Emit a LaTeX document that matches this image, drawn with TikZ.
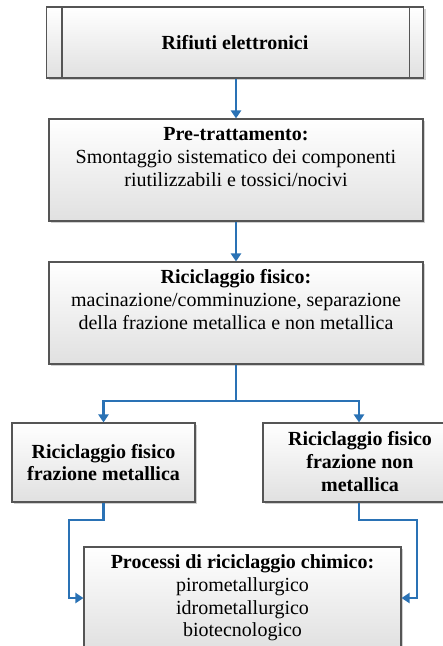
\documentclass[tikz,border=0pt]{standalone}
\usepackage{fontspec}
\setmainfont{Liberation Serif}
\usetikzlibrary{arrows.meta,shadows,calc}
\definecolor{arrblue}{HTML}{2A72B5}
\definecolor{boxline}{HTML}{555555}
\begin{document}
\begin{tikzpicture}[x=1pt,y=-1pt,
  box/.style={rectangle, draw=boxline, line width=1.1pt, top color=white, bottom color=black!12,
    drop shadow={shadow xshift=2pt, shadow yshift=-2pt, opacity=0.3, fill=black!60},
    inner sep=0pt, font=\fontsize{20}{22.8}\selectfont, align=center},
  txt/.style={inner sep=0pt, anchor=north, align=center, font=\fontsize{20}{22.8}\selectfont},
  arr/.style={draw=arrblue, line width=2.6pt, -{Triangle[length=8pt,width=10pt]}},
  ln/.style={draw=arrblue, line width=2.6pt}]
\useasboundingbox[fill=white] (0,0) rectangle (443,646);
% boxes
\node[box, minimum width=377pt, minimum height=71pt] (b1) at (235,42.5) {\bfseries Rifiuti elettronici};
\draw[boxline, line width=1.1pt] ([xshift=16pt]b1.north west) -- ([xshift=16pt]b1.south west);
\draw[boxline, line width=1.1pt] ([xshift=-15pt]b1.north east) -- ([xshift=-15pt]b1.south east);
\node[box, minimum width=374pt, minimum height=102pt] (b2) at (236,170) {};
\node[txt] (t2) at (236,127.5) {\textbf{Pre-trattamento:}\\Smontaggio sistematico dei componenti\\riutilizzabili e tossici/nocivi};
\node[box, minimum width=374pt, minimum height=102pt] (b3) at (236,313) {};
\node[txt] (t3) at (236,269.5) {\textbf{Riciclaggio fisico:}\\macinazione/comminuzione, separazione\\della frazione metallica e non metallica};
\node[box, minimum width=183pt, minimum height=79pt] (b4) at (103.5,462.5) {\bfseries Riciclaggio fisico\\\bfseries frazione metallica};
\node[box, minimum width=192pt, minimum height=79pt] (b5) at (359,462.5) {};
\node[txt] (t5) at (360,431.5) {\bfseries Riciclaggio fisico\\\bfseries frazione non\\\bfseries metallica};
\node[box, minimum width=317pt, minimum height=102pt] (b6) at (242.5,598) {};
\node[txt] (t6) at (242.5,554.5) {\textbf{Processi di riciclaggio chimico:}\\pirometallurgico\\idrometallurgico\\biotecnologico};
% connectors
\draw[arr] (b1.south -| b2.north) -- (b2.north);
\draw[arr] (b2.south) -- (b3.north);
\coordinate (j) at (236,401);
\draw[ln] (b3.south) -- (j);
\draw[arr] (j) -| (b4.north);
\draw[arr] (j) -| (b5.north);
\coordinate (l1) at (69,520);
\coordinate (r1) at (417,520);
\draw[arr] (b4.south) |- (l1) |- (b6.west);
\draw[arr] (b5.south) |- (r1) |- (b6.east);
\end{tikzpicture}
\end{document}
